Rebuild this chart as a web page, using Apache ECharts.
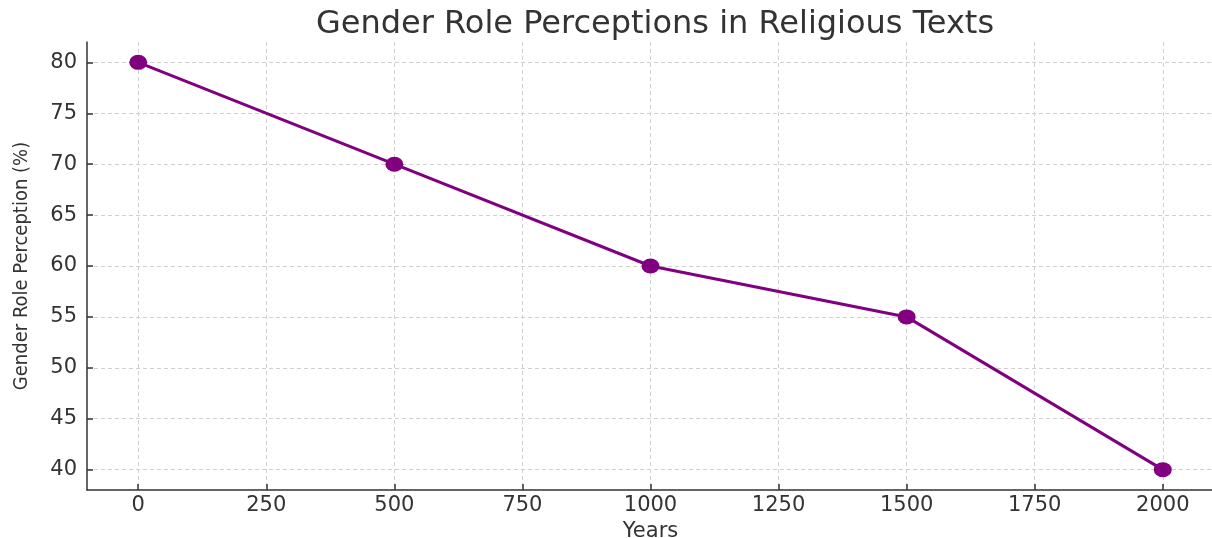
<!DOCTYPE html>
<html>
<head>
<meta charset="utf-8">
<script src="https://cdn.jsdelivr.net/npm/echarts@6/dist/echarts.min.js"></script>
<style>
  html, body { margin: 0; padding: 0; background: #fff; }
  #chart { width: 1212px; height: 538px; }
</style>
</head>
<body>
<div id="chart"></div>
<script>
// data
const years = [0, 500, 1000, 1500, 2000];
const perception = [80, 70, 60, 55, 40];
const xTicks = [0, 250, 500, 750, 1000, 1250, 1500, 1750, 2000];
const yTicks = [40, 45, 50, 55, 60, 65, 70, 75, 80];

const myChart = echarts.init(document.getElementById('chart'));
const font = 'DejaVu Sans';
const labelColor = '#333';

const gridLine = {
  show: true,
  lineStyle: { color: '#d0d0d0', type: [4, 3], width: 1 }
};

const options = {
  animation: false,
  title: {
    text: 'Gender Role Perceptions in Religious Texts',
    left: 650,
    top: 4,
    textAlign: 'center',
    textStyle: { fontFamily: font, fontSize: 32, fontWeight: 'normal', color: labelColor }
  },
  grid: { left: 87, right: -2, top: 42, bottom: 48, outerBoundsMode: 'none' },
  xAxis: {
    type: 'value',
    min: -100,
    max: 2100,
    interval: 250,
    name: 'Years',
    nameLocation: 'middle',
    nameGap: 23,
    nameTextStyle: { fontFamily: font, fontSize: 21, color: labelColor },
    axisLine: { show: true, onZero: false, lineStyle: { color: '#333', width: 1.5 } },
    axisTick: { show: true, inside: true, length: 6, lineStyle: { color: '#333', width: 1.5 },
      customValues: xTicks },
    axisLabel: {
      fontFamily: font, fontSize: 21, color: labelColor, margin: 5,
      customValues: xTicks,
      formatter: v => String(v)
    },
    splitLine: gridLine
  },
  yAxis: {
    type: 'value',
    min: 38,
    max: 82,
    interval: 5,
    name: 'Gender Role Perception (%)',
    nameLocation: 'middle',
    nameGap: 55,
    nameTextStyle: { fontFamily: 'DejaVu Sans Condensed, Liberation Sans Narrow, ' + font, fontSize: 20, color: labelColor },
    axisLine: { show: true, onZero: false, lineStyle: { color: '#333', width: 1.5 } },
    axisTick: { show: true, inside: true, length: 6, lineStyle: { color: '#333', width: 1.5 },
      customValues: yTicks },
    axisLabel: {
      fontFamily: font, fontSize: 21, color: labelColor, margin: 10,
      customValues: yTicks,
      formatter: v => String(v)
    },
    splitLine: gridLine
  },
  series: [{
    type: 'line',
    data: years.map((y, i) => [y, perception[i]]),
    symbol: 'circle',
    symbolSize: [18, 15],
    lineStyle: { color: '#800080', width: 3 },
    itemStyle: { color: '#800080' }
  }]
};

myChart.setOption(options);
window.onresize = () => {
  myChart.resize();
};
</script>
</body>
</html>
